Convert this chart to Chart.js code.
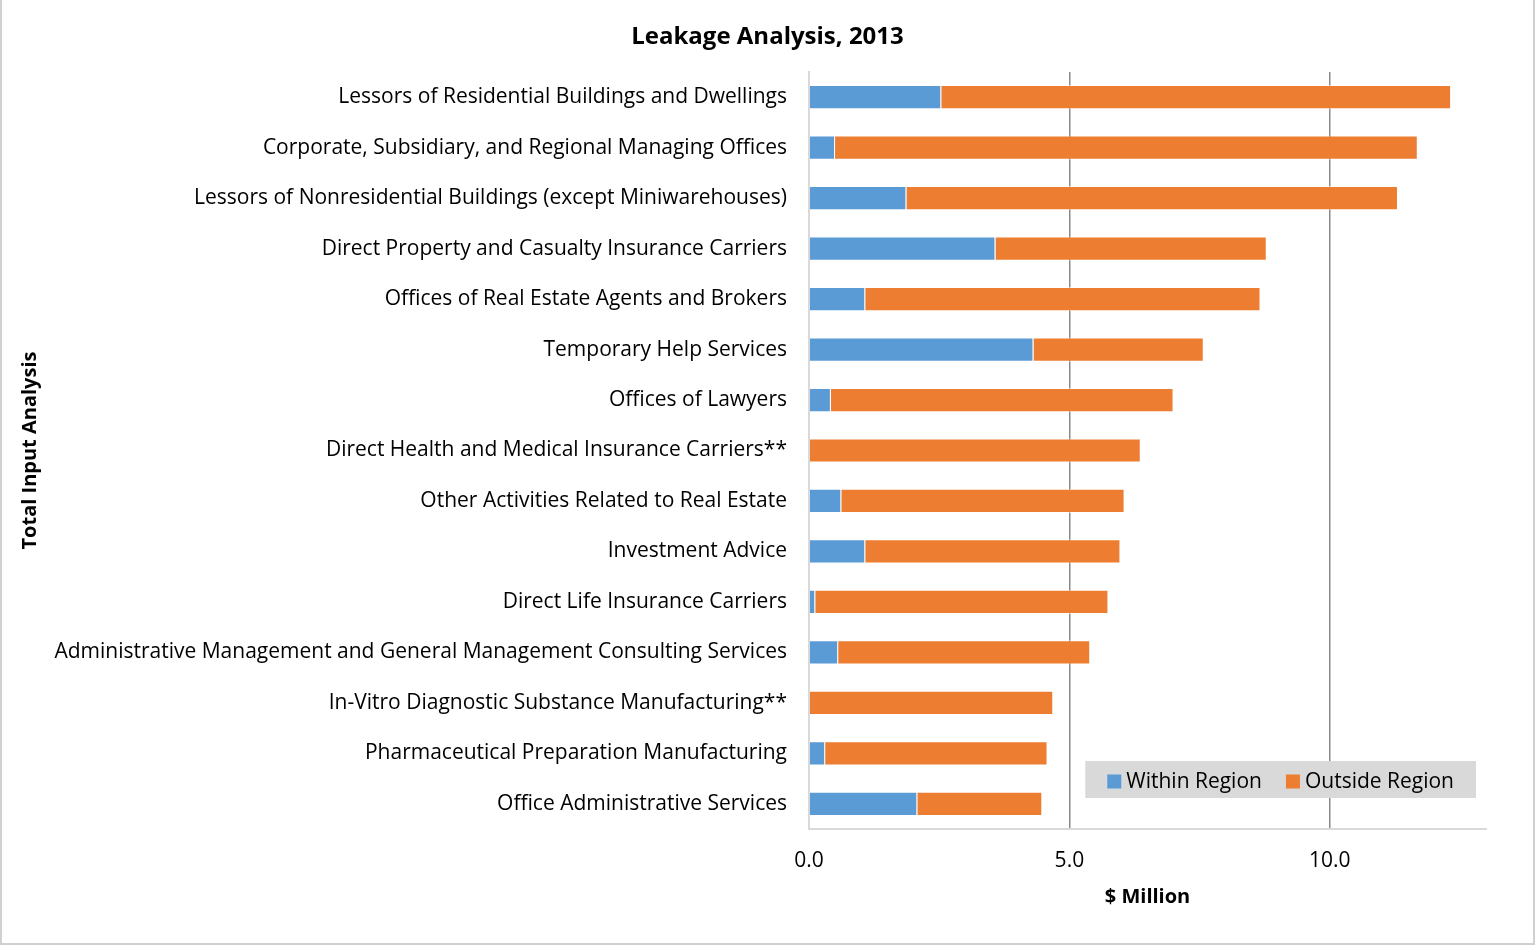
<!DOCTYPE html>
<html>
<head>
<meta charset="utf-8">
<script src="https://cdn.jsdelivr.net/npm/chart.js@4/dist/chart.umd.min.js"></script>
<style>
  html, body { margin: 0; padding: 0; background: #fff; }
  #wrap { width: 1535px; height: 945px; }
</style>
</head>
<body>
<div id="wrap"><canvas id="chart_Leakage"></canvas></div>
<script>
// categories, top to bottom
var industries = [
  "Lessors of Residential Buildings and Dwellings",
  "Corporate, Subsidiary, and Regional Managing Offices",
  "Lessors of Nonresidential Buildings (except Miniwarehouses)",
  "Direct Property and Casualty Insurance Carriers",
  "Offices of Real Estate Agents and Brokers",
  "Temporary Help Services",
  "Offices of Lawyers",
  "Direct Health and Medical Insurance Carriers**",
  "Other Activities Related to Real Estate",
  "Investment Advice",
  "Direct Life Insurance Carriers",
  "Administrative Management and General Management Consulting Services",
  "In-Vitro Diagnostic Substance Manufacturing**",
  "Pharmaceutical Preparation Manufacturing",
  "Office Administrative Services"
];

// $ million
var withinRegion = [2.54, 0.50, 1.87, 3.58, 1.08, 4.31, 0.42, 0.00, 0.62, 1.08, 0.12, 0.56, 0.00, 0.31, 2.08];
var outsideRegion = [9.79, 11.19, 9.44, 5.21, 7.59, 3.27, 6.58, 6.37, 5.44, 4.90, 5.63, 4.84, 4.69, 4.27, 2.40];

var xTicks = [0, 5, 10];

var chartTitle = 'Leakage Analysis, 2013';
var fontName = "'Open Sans', 'DejaVu Sans', sans-serif";

// white page + thin frame like the exported picture
var frame = {
  id: 'frame',
  beforeDraw: function (chart) {
    var c = chart.ctx;
    c.save();
    c.fillStyle = '#fff';
    c.fillRect(0, 0, chart.width, chart.height);
    c.strokeStyle = '#d0d0d0';
    c.lineWidth = 2;
    c.beginPath();
    c.moveTo(1, 0);
    c.lineTo(1, chart.height - 1);
    c.lineTo(chart.width - 1, chart.height - 1);
    c.lineTo(chart.width - 1, 0);
    c.stroke();
    c.restore();
  }
};

// title centred on the whole canvas, not on the padded box
var pageTitle = {
  id: 'pageTitle',
  afterDraw: function (chart) {
    var c = chart.ctx;
    c.save();
    c.font = "bold 24px " + fontName;
    c.fillStyle = '#000';
    c.textAlign = 'center';
    c.textBaseline = 'middle';
    c.fillText(chartTitle, chart.width / 2, 37);
    c.restore();
  }
};

// legend drawn inside the plot, bottom right, on a grey box
var innerLegend = {
  id: 'innerLegend',
  afterDraw: function (chart) {
    var c = chart.ctx;
    var area = chart.chartArea;
    var sets = chart.data.datasets;
    c.save();
    c.font = "21px " + fontName;
    var box = 14, gap = 5, between = 24, padX = 22;
    var w = padX * 2;
    for (var i = 0; i < sets.length; i++) {
      w += box + gap + c.measureText(sets[i].label).width;
      if (i < sets.length - 1) w += between;
    }
    var h = 37;
    var right = area.right - 10;
    var bottom = area.bottom - 31;
    var left = right - w;
    var top = bottom - h;
    c.fillStyle = '#d9d9d9';
    c.fillRect(left, top, w, h);
    var x = left + padX;
    var cy = top + h / 2;
    c.textBaseline = 'middle';
    for (var j = 0; j < sets.length; j++) {
      c.fillStyle = sets[j].backgroundColor;
      c.fillRect(x, cy - box / 2 + 2, box, box);
      x += box + gap;
      c.fillStyle = '#000';
      c.fillText(sets[j].label, x, cy + 3);
      x += c.measureText(sets[j].label).width + between;
    }
    c.restore();
  }
};

new Chart(document.getElementById("chart_Leakage"), {
  type: 'bar',
  data: {
    labels: industries,
    datasets: [{
      label: "Within Region",
      backgroundColor: "#5B9BD5",
      borderColor: "rgba(255,255,255,0.5)",
      borderWidth: 1,
      data: withinRegion
    }, {
      label: "Outside Region",
      backgroundColor: "#ED7D31",
      borderColor: "rgba(255,255,255,0.5)",
      borderWidth: 1,
      data: outsideRegion
    }]
  },
  plugins: [frame, pageTitle, innerLegend],
  options: {
    indexAxis: 'y',
    responsive: true,
    maintainAspectRatio: false,
    animation: false,
    barPercentage: 0.48,
    categoryPercentage: 1,
    layout: { padding: { left: 10, right: 49, top: 72, bottom: 20 } },
    plugins: {
      legend: { display: false },
      tooltip: { enabled: false },
      title: { display: false }
    },
    scales: {
      x: {
        stacked: true,
        min: 0,
        max: 13,
        afterBuildTicks: function (axis) {
          axis.ticks = xTicks.map(function (v) { return { value: v }; });
        },
        afterFit: function (axis) {
          axis.height = 945 - 20 - 829;
        },
        border: { display: true, color: '#d9d9d9', width: 2 },
        grid: {
          drawTicks: false,
          color: function (ctx) {
            return ctx.tick && ctx.tick.value === 0 ? '#d9d9d9' : '#898989';
          },
          lineWidth: function (ctx) {
            return ctx.tick && ctx.tick.value === 0 ? 2 : 1.5;
          }
        },
        ticks: {
          color: '#000',
          padding: 19,
          font: { family: fontName, size: 21 },
          callback: function (v) { return Number(v).toFixed(1); }
        },
        title: {
          display: true,
          text: '$ Million',
          color: '#000',
          font: { family: fontName, size: 20, weight: 'bold' },
          padding: { top: 4, bottom: 16 }
        }
      },
      y: {
        stacked: true,
        afterFit: function (axis) {
          axis.width = 809 - 10;
        },
        border: { display: true, color: '#d9d9d9', width: 2 },
        grid: { display: false, drawTicks: false },
        ticks: {
          color: '#000',
          padding: 22,
          autoSkip: false,
          font: { family: fontName, size: 21 }
        },
        title: {
          display: true,
          text: 'Total Input Analysis',
          color: '#000',
          font: { family: fontName, size: 20, weight: 'bold' },
          padding: { top: 8 }
        }
      }
    }
  }
});
</script>
</body>
</html>
